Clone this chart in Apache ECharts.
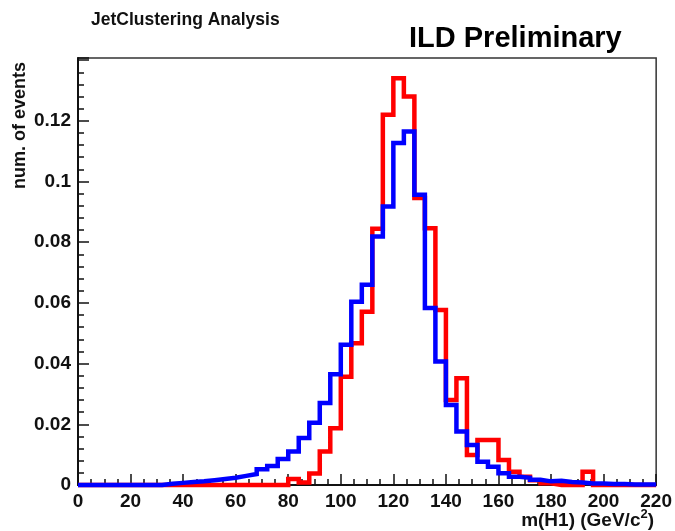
<!DOCTYPE html>
<html>
<head>
<meta charset="utf-8">
<script src="https://cdn.jsdelivr.net/npm/echarts@6/dist/echarts.min.js"></script>
<style>
  html, body { margin: 0; padding: 0; background: #fff; }
  #chart { width: 675px; height: 531px; }
</style>
</head>
<body>
<div id="chart"></div>
<script>
// ---- data ----
const binStart = 0;       // GeV, low edge of first bin
const binWidth = 4;       // GeV
const xTickLabels = ['0','20','40','60','80','100','120','140','160','180','200','220'];
const yTickLabels = ['0','0.02','0.04','0.06','0.08','0.1','0.12'];

const redCounts = [
  0,0,0,0,0,0,0,0,0,0,
  0,0,0,0,0,0,0,0,0,0,
  0.002,0.0008,0.0038,0.011,0.0187,0.0357,0.0467,0.0571,0.0844,0.122,
  0.134,0.128,0.0946,0.0846,0.0577,0.028,0.0352,0.0099,0.0148,0.0148,
  0.0082,0.0044,0.0027,0.0016,0.0006,0,0,0,0.0044,0,
  0,0,0,0,0
];
const blueCounts = [
  0,0,0,0,0,0,0,0,0.0004,0.0007,
  0.001,0.0012,0.0016,0.002,0.0024,0.003,0.0036,0.0052,0.0063,0.0086,
  0.011,0.0155,0.0205,0.027,0.0365,0.0462,0.0604,0.066,0.0819,0.0918,
  0.1127,0.1165,0.0956,0.0583,0.0407,0.0264,0.0176,0.0132,0.0077,0.006,
  0.0039,0.0027,0.0024,0.0017,0.0012,0.0014,0.001,0.0008,0.0005,0.0005,
  0.0003,0.0003,0.0002,0.0002,0.0002
];

function histPoints(vals) {
  const pts = vals.map((v, i) => [binStart + i * binWidth, v]);
  pts.push([binStart + vals.length * binWidth, vals[vals.length - 1]]);
  return pts;
}

const FONT = '"Liberation Sans", Arial, Helvetica, sans-serif';
const chart = echarts.init(document.getElementById('chart'), null, { renderer: 'canvas' });

chart.setOption({
  animation: false,
  backgroundColor: '#ffffff',
  grid: {
    left: 78, right: 16, top: 58, bottom: 46,
    show: true, borderColor: '#333', borderWidth: 1.5, backgroundColor: 'transparent'
  },
  title: [
    { text: 'JetClustering Analysis', left: 86, top: 6,
      textStyle: { fontFamily: FONT, fontSize: 17.5, fontWeight: 'bold', color: '#111' } },
    { text: 'ILD Preliminary', left: 404, top: 19,
      textStyle: { fontFamily: FONT, fontSize: 29, fontWeight: 'bold', color: '#000' } },
    { text: '{b|m(H1) (GeV/c}{s|2}{b|)}', right: 16, top: 503,
      textStyle: {
        rich: {
          b: { fontFamily: FONT, fontSize: 19, fontWeight: 'bold', color: '#111', lineHeight: 22, verticalAlign: 'bottom' },
          s: { fontFamily: FONT, fontSize: 13, fontWeight: 'bold', color: '#111', lineHeight: 13, verticalAlign: 'top' }
        }
      } }
  ],
  graphic: [
    { type: 'text', x: 20, y: 62, rotation: Math.PI / 2,
      style: { text: 'num. of events', font: 'bold 18px ' + FONT, fill: '#111',
               textAlign: 'right', textVerticalAlign: 'middle' } }
  ],
  xAxis: {
    type: 'value', min: 0, max: 220, interval: 20,
    axisLine: { show: true, onZero: false, lineStyle: { color: '#111', width: 2 } },
    axisTick: { show: true, inside: true, length: 11, lineStyle: { color: '#111', width: 1.5 } },
    minorTick: { show: true, splitNumber: 4, length: 6, lineStyle: { color: '#111', width: 1.5 } },
    splitLine: { show: false },
    axisLabel: {
      margin: 7, fontFamily: FONT, fontSize: 19, fontWeight: 'bold', color: '#111',
      formatter: (v) => { const s = String(Math.round(v)); return xTickLabels.indexOf(s) >= 0 ? s : ''; }
    }
  },
  yAxis: {
    type: 'value', min: 0, max: 0.1407, interval: 0.02,
    axisLine: { show: true, onZero: false, lineStyle: { color: '#111', width: 2 } },
    axisTick: { show: true, inside: true, length: 11, lineStyle: { color: '#111', width: 1.5 } },
    minorTick: { show: true, splitNumber: 5, length: 6, lineStyle: { color: '#111', width: 1.5 } },
    splitLine: { show: false },
    axisLabel: {
      margin: 7, fontFamily: FONT, fontSize: 19, fontWeight: 'bold', color: '#111',
      showMaxLabel: false,
      formatter: (v) => { const s = String(parseFloat(v.toFixed(4))); return yTickLabels.indexOf(s) >= 0 ? s : ''; }
    }
  },
  series: [
    { type: 'line', name: 'red', step: 'end', symbol: 'none', clip: false,
      data: histPoints(redCounts),
      lineStyle: { color: '#ff0000', width: 4.5, join: 'miter' }, z: 3 },
    { type: 'line', name: 'blue', step: 'end', symbol: 'none', clip: false,
      data: histPoints(blueCounts),
      lineStyle: { color: '#0000ff', width: 4.5, join: 'miter' }, z: 4 }
  ]
});
</script>
</body>
</html>
